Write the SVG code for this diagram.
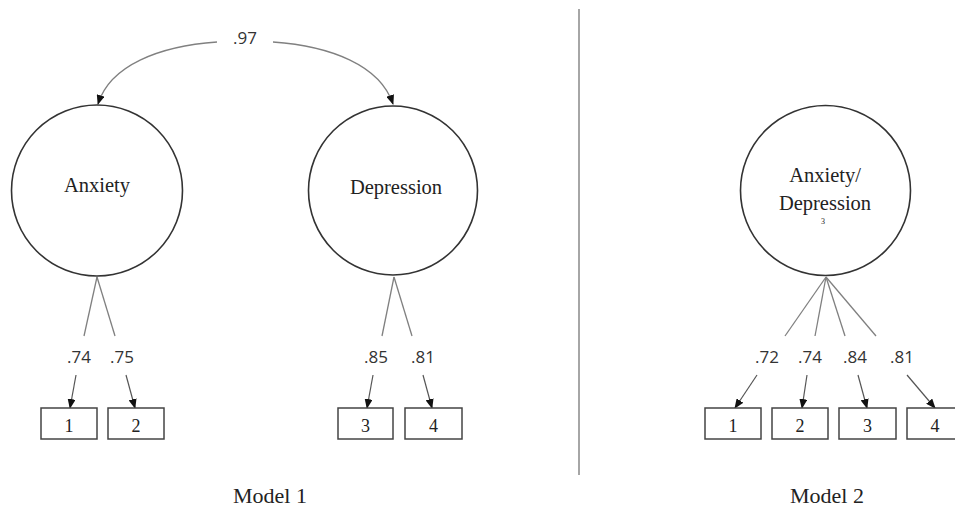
<svg xmlns="http://www.w3.org/2000/svg" width="955" height="509" viewBox="0 0 955 509">
<style>
.bg{fill:#fff}
.lat{fill:#fff;stroke:#333;stroke-width:1.6}
.obs{fill:#fff;stroke:#444;stroke-width:1.5}
.ln{fill:none;stroke:#808080;stroke-width:1.3}
.ar{fill:none;stroke:#555;stroke-width:1.2}
.tn{font-family:"Liberation Serif","Times New Roman",serif;fill:#222;text-anchor:middle}
.num{font-family:"Open Sans","Liberation Sans",sans-serif;font-size:17px;fill:#333;text-anchor:middle}
.div{stroke:#888;stroke-width:1.5}
</style>
<defs>
<marker id="ah" markerUnits="userSpaceOnUse" markerWidth="10" markerHeight="8" refX="9" refY="4" orient="auto">
<path d="M0,0 L10,4 L0,8 z" fill="#111"/>
</marker>
</defs>
<rect class="bg" x="0" y="0" width="955" height="509"/>

<g id="connectors">
<path class="ln" d="M217,42 C160,46 110,65 98,104" marker-end="url(#ah)"/>
<path class="ln" d="M273,42 C330,46 380,65 393,104" marker-end="url(#ah)"/>
<line class="ln" x1="97" y1="277" x2="84" y2="336"/>
<line class="ln" x1="97" y1="277" x2="115" y2="336"/>
<line class="ar" x1="76" y1="375" x2="70" y2="408" marker-end="url(#ah)"/>
<line class="ar" x1="126" y1="375" x2="135" y2="408" marker-end="url(#ah)"/>
<line class="ln" x1="394" y1="277" x2="382" y2="336"/>
<line class="ln" x1="394" y1="277" x2="412" y2="336"/>
<line class="ar" x1="373" y1="375" x2="367" y2="408" marker-end="url(#ah)"/>
<line class="ar" x1="423" y1="375" x2="432" y2="408" marker-end="url(#ah)"/>
<line class="ln" x1="826" y1="277" x2="785" y2="336"/>
<line class="ln" x1="826" y1="277" x2="815" y2="336"/>
<line class="ln" x1="826" y1="277" x2="845" y2="336"/>
<line class="ln" x1="826" y1="277" x2="876" y2="336"/>
<line class="ar" x1="757" y1="375" x2="735" y2="408" marker-end="url(#ah)"/>
<line class="ar" x1="807" y1="375" x2="802" y2="408" marker-end="url(#ah)"/>
<line class="ar" x1="858" y1="375" x2="867" y2="408" marker-end="url(#ah)"/>
<line class="ar" x1="907" y1="375" x2="935" y2="408" marker-end="url(#ah)"/>
</g>

<g id="labels">
<text class="num" x="245" y="44">.97</text>
<text class="num" x="79" y="363">.74</text>
<text class="num" x="122" y="363">.75</text>
<text class="num" x="376" y="363">.85</text>
<text class="num" x="423" y="363">.81</text>
<text class="num" x="767" y="363">.72</text>
<text class="num" x="810" y="363">.74</text>
<text class="num" x="855" y="363">.84</text>
<text class="num" x="902" y="363">.81</text>
</g>

<line class="div" x1="579" y1="9" x2="579" y2="475"/>

<g id="anxiety">
<circle class="lat" cx="97" cy="190.5" r="85.5"/>
<text class="tn" x="97" y="192" font-size="20.5">Anxiety</text>
</g>
<g id="depression">
<circle class="lat" cx="393" cy="190.5" r="84.5"/>
<text class="tn" x="396" y="194" font-size="20.5">Depression</text>
</g>
<g id="anxdep">
<circle class="lat" cx="825.5" cy="190.5" r="85"/>
<text class="tn" x="825" y="182" font-size="20.5">Anxiety/</text>
<text class="tn" x="825" y="210" font-size="20.5">Depression</text>
<text class="tn" x="823" y="224" font-size="8">3</text>
</g>

<g id="m1i1"><rect class="obs" x="41" y="408" width="56" height="31"/><text class="tn" x="69" y="432" font-size="18">1</text></g>
<g id="m1i2"><rect class="obs" x="108" y="408" width="56" height="31"/><text class="tn" x="136" y="432" font-size="18">2</text></g>
<g id="m1i3"><rect class="obs" x="338" y="408" width="55" height="31"/><text class="tn" x="365.5" y="432" font-size="18">3</text></g>
<g id="m1i4"><rect class="obs" x="405" y="408" width="57" height="31"/><text class="tn" x="433.5" y="432" font-size="18">4</text></g>

<g id="m2i1"><rect class="obs" x="705" y="408" width="56" height="31"/><text class="tn" x="733" y="432" font-size="18">1</text></g>
<g id="m2i2"><rect class="obs" x="772" y="408" width="56" height="31"/><text class="tn" x="800" y="432" font-size="18">2</text></g>
<g id="m2i3"><rect class="obs" x="839" y="408" width="57" height="31"/><text class="tn" x="867.5" y="432" font-size="18">3</text></g>
<g id="m2i4"><rect class="obs" x="907" y="408" width="56" height="31"/><text class="tn" x="935" y="432" font-size="18">4</text></g>

<text class="tn" x="270" y="503" font-size="22">Model 1</text>
<text class="tn" x="827" y="503" font-size="22">Model 2</text>
</svg>
